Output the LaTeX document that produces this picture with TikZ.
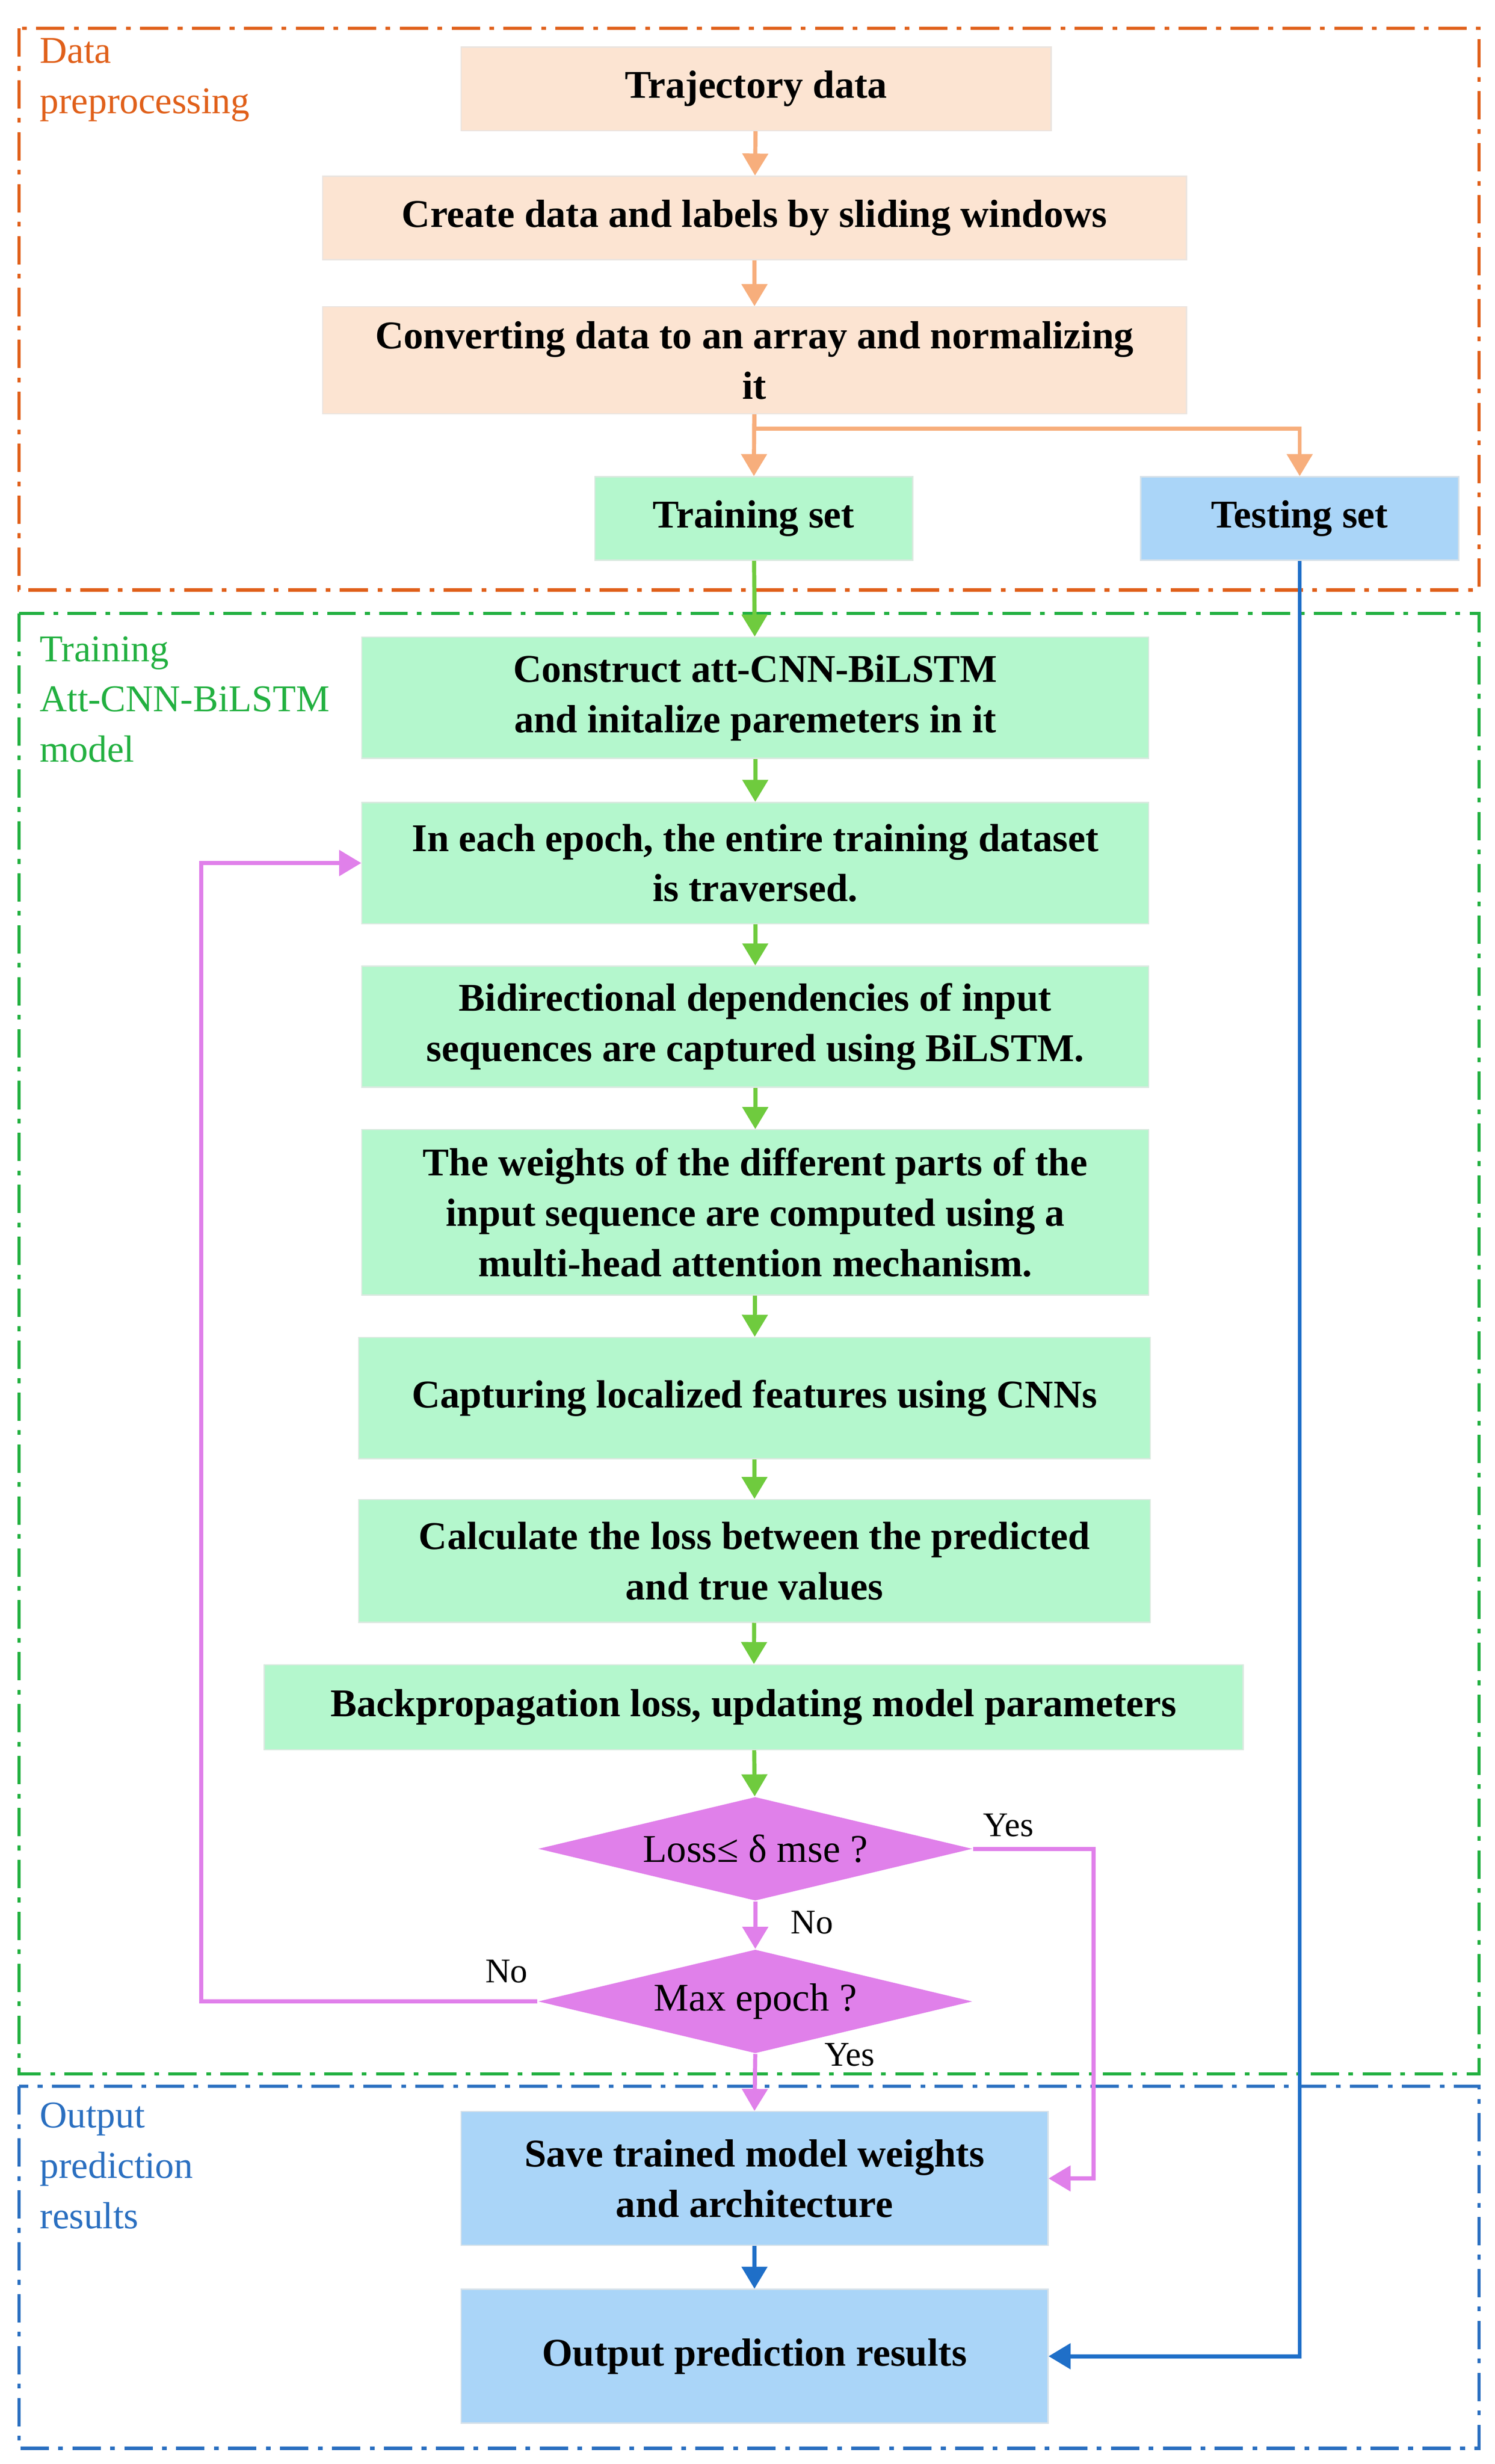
\documentclass[tikz,border=0pt]{standalone}
\usepackage{fontspec}
\setmainfont{Liberation Serif}
\usetikzlibrary{arrows.meta,shapes.geometric}
\definecolor{peach}{HTML}{FCE4D2}
\definecolor{mint}{HTML}{B4F7CD}
\definecolor{sky}{HTML}{AAD5F8}
\definecolor{ora}{HTML}{F7AE7C}
\definecolor{grn}{HTML}{6FCB3E}
\definecolor{pnk}{HTML}{E080EA}
\definecolor{blu}{HTML}{1F6FC8}
\definecolor{fo}{HTML}{E0601A}
\definecolor{fg}{HTML}{22B040}
\definecolor{fb}{HTML}{2A6FC0}
\begin{document}
\begin{tikzpicture}[x=0.5pt,y=-0.5pt,
 box/.style={draw=#1!60!gray!40,fill=#1,inner sep=0pt,align=center,font=\bfseries\fontsize{12.5}{16}\selectfont},
 frame/.style={draw=#1,line width=1pt,dash pattern=on 9pt off 3pt on 1.5pt off 3pt},
 lab/.style={anchor=north west,align=left,text=#1,font=\fontsize{12}{16}\selectfont,inner sep=0pt},
 ar/.style={draw=#1,line width=1.3pt,-{Triangle[length=7pt,width=8pt]}},
 dia/.style={diamond,fill=pnk,aspect=4.2,inner sep=0pt,minimum width=138pt,minimum height=33pt,font=\fontsize{12.5}{14}\selectfont},
 t/.style={font=\fontsize{11}{12}\selectfont}]
\useasboundingbox (0,0) rectangle (950,1566);
\draw[frame=fo] (12,18) rectangle (940,375);
\draw[frame=fg] (12,390) rectangle (940,1318);
\draw[frame=fb] (12,1326) rectangle (940,1556);
\node[lab=fo] (l1) at (25,24) {Data\\preprocessing};
\node[lab=fg] (l2) at (25,404) {Training\\Att-CNN-BiLSTM\\model};
\node[lab=fb] (l3) at (25,1336) {Output\\prediction\\results};
\node[box=peach,minimum width=187.5pt,minimum height=26.5pt] (a) at (480.5,56.5) {Trajectory data};
\node[box=peach,minimum width=274.5pt,minimum height=26.5pt] (b) at (479.5,138.5) {Create data and labels by sliding windows};
\node[box=peach,minimum width=274.5pt,minimum height=34pt] (c) at (479.5,229) {Converting data to an array and normalizing\\it};
\node[box=mint,minimum width=101pt,minimum height=26.5pt] (tr) at (479,329.5) {Training set};
\node[box=sky,minimum width=101pt,minimum height=26.5pt] (te) at (826,329.5) {Testing set};
\node[box=mint,minimum width=250pt,minimum height=38.5pt] (d1) at (480,443.5) {Construct att-CNN-BiLSTM\\and initalize paremeters in it};
\node[box=mint,minimum width=250pt,minimum height=38.5pt] (d2) at (480,548.5) {In each epoch, the entire training dataset\\is traversed.};
\node[box=mint,minimum width=250pt,minimum height=38.5pt] (d3) at (480,652.5) {Bidirectional dependencies of input\\sequences are captured using BiLSTM.};
\node[box=mint,minimum width=250pt,minimum height=52.5pt] (d4) at (480,770.5) {The weights of the different parts of the\\input sequence are computed using a\\multi-head attention mechanism.};
\node[box=mint,minimum width=251.5pt,minimum height=38.5pt] (d5) at (479.5,888.5) {Capturing localized features using CNNs};
\node[box=mint,minimum width=251.5pt,minimum height=39pt] (d6) at (479.5,992) {Calculate the loss between the predicted\\and true values};
\node[box=mint,minimum width=311pt,minimum height=27pt] (d7) at (479,1085) {Backpropagation loss, updating model parameters};
\node[dia] (q1) at (480,1175) {Loss≤ δ mse ?};
\node[dia] (q2) at (480,1272) {Max epoch ?};
\node[box=sky,minimum width=186.5pt,minimum height=42.5pt] (s) at (479.5,1384.5) {Save trained model weights\\and architecture};
\node[box=sky,minimum width=186.5pt,minimum height=42.5pt] (o) at (479.5,1497.5) {Output prediction results};
\draw[ar=ora] (a) -- (b);
\draw[ar=ora] (b) -- (c);
\draw[ar=ora] (c) -- (tr);
\draw[ar=ora] (c.south) -- ++(0,9) -| (te.north);
\draw[ar=grn] (tr) -- (d1);
\draw[ar=grn] (d1) -- (d2);
\draw[ar=grn] (d2) -- (d3);
\draw[ar=grn] (d3) -- (d4);
\draw[ar=grn] (d4) -- (d5);
\draw[ar=grn] (d5) -- (d6);
\draw[ar=grn] (d6) -- (d7);
\draw[ar=grn] (d7) -- (q1);
\draw[ar=pnk] (q1) -- (q2);
\coordinate (c1) at (695,1175);
\coordinate (c2) at (128,1272);
\draw[ar=pnk] (q1.east) -- (c1) |- (s.east);
\draw[ar=pnk] (q2.west) -- (c2) |- (d2.west);
\draw[ar=pnk] (q2.south) -- (s.north);
\draw[ar=blu] (s) -- (o);
\coordinate (c3) at (826,1497.5);
\draw[ar=blu] (te.south) -- (c3) -- (o.east);
\node[t] (y1) at (641,1160) {Yes};
\node[t] (n1) at (516,1222) {No};
\node[t] (n2) at (322,1253) {No};
\node[t] (y2) at (540,1306) {Yes};
\end{tikzpicture}
\end{document}
